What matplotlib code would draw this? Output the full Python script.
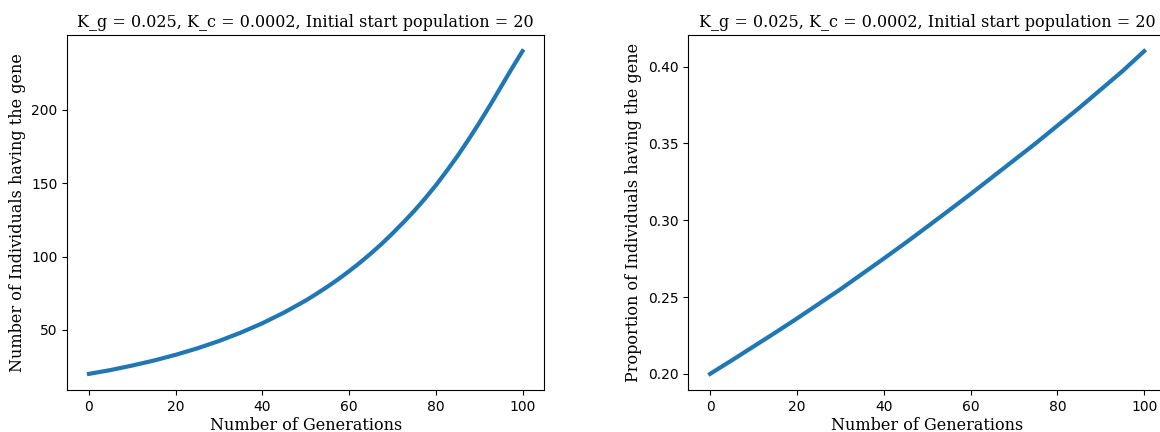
import matplotlib
matplotlib.use("Agg")
import matplotlib.pyplot as plt

# values (finer spacing where the curve bends most)
gens_num = [0, 5, 10, 15, 20, 25, 30, 35, 40, 45, 50, 52.5, 55, 57.5, 60, 62.5, 65, 67.5,
            70, 72.5, 75, 77.5, 80, 82.5, 85, 87.5, 90, 92.5, 95, 97.5, 100]
num_with_gene = [20.0, 22.6, 25.7, 29.1, 33.0, 37.4, 42.4, 48.1, 54.5, 61.8, 70.0, 74.6, 79.4, 84.5,
                 90.0, 95.8, 102.0, 108.6, 115.7, 123.2, 131.0, 139.5, 148.5, 158.3, 168.5, 179.5,
                 191.0, 203.0, 215.5, 228.0, 240.0]

gens_prop = [0, 5, 10, 15, 20, 25, 30, 35, 40, 45, 50,
             55, 60, 65, 70, 75, 80, 85, 90, 95, 100]
prop_with_gene = [0.200, 0.2088, 0.2178, 0.2268, 0.236, 0.2455, 0.255, 0.265, 0.275, 0.2852, 0.2957,
                  0.3063, 0.317, 0.328, 0.339, 0.350, 0.3615, 0.373, 0.385, 0.397, 0.410]

title = "K_g = 0.025, K_c = 0.0002, Initial start population = 20"
serif = {"family": "DejaVu Serif", "size": 11.5}

fig = plt.figure(figsize = (11.6, 4.32), dpi = 100)
ax1 = fig.add_axes([67.3/1160, 42/432, 476.9/1160, 355/432])
ax2 = fig.add_axes([688.4/1160, 42/432, 477.5/1160, 355/432])

ax1.plot(gens_num, num_with_gene, color = "tab:blue", linewidth = 3)
ax1.set_title(title, fontdict = serif)
ax1.set_xlabel("Number of Generations", fontdict = serif, labelpad = 2)
ax1.set_ylabel("Number of Individuals having the gene", fontdict = serif)
ax1.set_yticks([50, 100, 150, 200])

ax2.plot(gens_prop, prop_with_gene, color = "tab:blue", linewidth = 3)
ax2.set_title(title, fontdict = serif)
ax2.set_xlabel("Number of Generations", fontdict = serif, labelpad = 2)
ax2.set_ylabel("Proportion of Individuals having the gene", fontdict = serif)

fig.savefig("out.png", dpi = 100)
